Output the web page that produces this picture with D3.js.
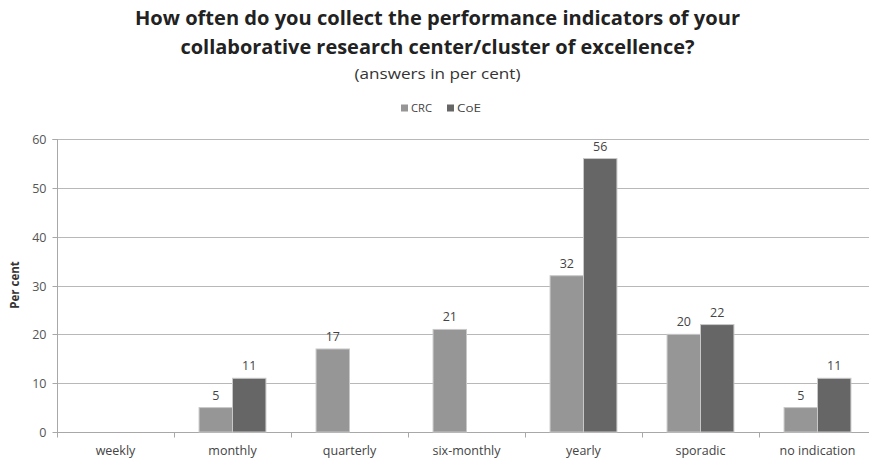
<!DOCTYPE html>
<html><head><meta charset="utf-8">
<script src="https://cdn.jsdelivr.net/npm/d3@7"></script>
<style>body{margin:0;background:#fff}svg{display:block}text{font-family:"Open Sans",sans-serif}</style>
</head><body>
<svg id="c" width="869" height="463"></svg>
<script>
const categories = ["weekly","monthly","quarterly","six-monthly","yearly","sporadic","no indication"];
const seriesNames = ["CRC","CoE"];
const crcValues = [null,5,17,21,32,20,5];
const coeValues = [null,11,null,null,56,22,11];
const yTicks = [0,10,20,30,40,50,60];
const colors = {CRC:"#969696", CoE:"#666666"};

const svg = d3.select("#c");
const W=869,H=463;
const m={left:57,right:-7,top:139,bottom:31};
const x0 = d3.scaleBand().domain(categories).range([m.left, W-m.right]).paddingInner(0).paddingOuter(0);
const x1 = d3.scaleBand().domain(seriesNames).range([0, x0.bandwidth()]).paddingInner(0).paddingOuter(0.75);
const y = d3.scaleLinear().domain([0,60]).range([H-m.bottom, m.top]);

// gridlines
svg.append("g").selectAll("line").data(yTicks.filter(d=>d>0)).join("line")
  .attr("x1",m.left).attr("x2",W-m.right).attr("y1",d=>Math.round(y(d))+0.5).attr("y2",d=>Math.round(y(d))+0.5)
  .attr("stroke","#b8b8b8").attr("stroke-width",1);

// y axis
const ya = svg.append("g").attr("transform",`translate(${m.left+0.5},0)`)
  .call(d3.axisLeft(y).tickValues(yTicks).tickSize(5).tickPadding(6));
ya.select(".domain").attr("stroke","#a8a8a8").attr("d",`M-5,${Math.round(y(60))+0.5}H0V${Math.round(y(0))+0.5}`);
ya.selectAll(".tick line").attr("stroke","#a8a8a8");
ya.selectAll(".tick").attr("transform",d=>`translate(0,${Math.round(y(d))+0.5})`);
ya.selectAll("text").attr("fill","#555").style("font-size","12.5px").style("font-family","Open Sans, sans-serif");

// x axis
const xa = svg.append("g").attr("transform",`translate(0,${Math.round(y(0))+0.5})`);
xa.append("line").attr("x1",m.left).attr("x2",W-m.right).attr("stroke","#a8a8a8");
xa.selectAll("line.t").data(d3.range(categories.length+1)).join("line").attr("class","t")
  .attr("x1",i=>Math.round(m.left+i*x0.step())+0.5).attr("x2",i=>Math.round(m.left+i*x0.step())+0.5)
  .attr("y1",0).attr("y2",5).attr("stroke","#a8a8a8");
xa.selectAll("text").data(categories).join("text")
  .attr("x",d=>x0(d)+x0.bandwidth()/2).attr("y",22).attr("text-anchor","middle")
  .attr("fill","#444").style("font-size","12.5px").text(d=>d);

// bars
const rows = categories.map((c,i)=>({cat:c, vals:[{s:"CRC",v:crcValues[i]},{s:"CoE",v:coeValues[i]}].filter(d=>d.v!=null)}));
const g = svg.append("g").selectAll("g").data(rows).join("g").attr("transform",d=>`translate(${x0(d.cat)},0)`);
g.selectAll("rect").data(d=>d.vals).join("rect")
  .attr("x",d=>x1(d.s)).attr("width",x1.bandwidth())
  .attr("y",d=>y(d.v)).attr("height",d=>y(0)-y(d.v))
  .attr("fill",d=>colors[d.s]).attr("stroke","#c8c8c8").attr("stroke-width",1);
g.selectAll("text").data(d=>d.vals).join("text")
  .attr("x",d=>x1(d.s)+x1.bandwidth()/2).attr("y",d=>y(d.v)-8).attr("text-anchor","middle")
  .attr("fill","#444").style("font-size","12.5px").text(d=>d.v);

// y label
svg.append("text").attr("transform","translate(19,285) rotate(-90)").attr("text-anchor","middle")
  .style("font-size","11.5px").style("font-weight","bold").attr("fill","#333").text("Per cent");

// title
svg.append("text").attr("x",437.5).attr("y",25).attr("text-anchor","middle")
  .style("font-size","20px").style("font-weight","bold").attr("fill","#222")
  .attr("textLength",605).attr("lengthAdjust","spacingAndGlyphs")
  .text("How often do you collect the performance indicators of your");
svg.append("text").attr("x",437.5).attr("y",54).attr("text-anchor","middle")
  .style("font-size","20px").style("font-weight","bold").attr("fill","#222")
  .attr("textLength",514).attr("lengthAdjust","spacingAndGlyphs")
  .text("collaborative research center/cluster of excellence?");
svg.append("text").attr("x",437.5).attr("y",79).attr("text-anchor","middle")
  .style("font-size","14px").attr("fill","#333")
  .attr("textLength",166).attr("lengthAdjust","spacingAndGlyphs")
  .text("(answers in per cent)");

// legend
const leg = svg.append("g").attr("transform","translate(401,108)");
const lx = [0,46];
seriesNames.forEach((s,i)=>{
  const lg = leg.append("g").attr("transform",`translate(${lx[i]},0)`);
  lg.append("rect").attr("x",0).attr("y",-3.5).attr("width",7).attr("height",7).attr("fill",colors[s]);
  lg.append("text").attr("x",10).attr("y",4).style("font-size","11.5px").attr("fill","#444")
    .attr("textLength",s==="CRC"?21:24).attr("lengthAdjust","spacingAndGlyphs").text(s);
});
</script>
</body></html>
